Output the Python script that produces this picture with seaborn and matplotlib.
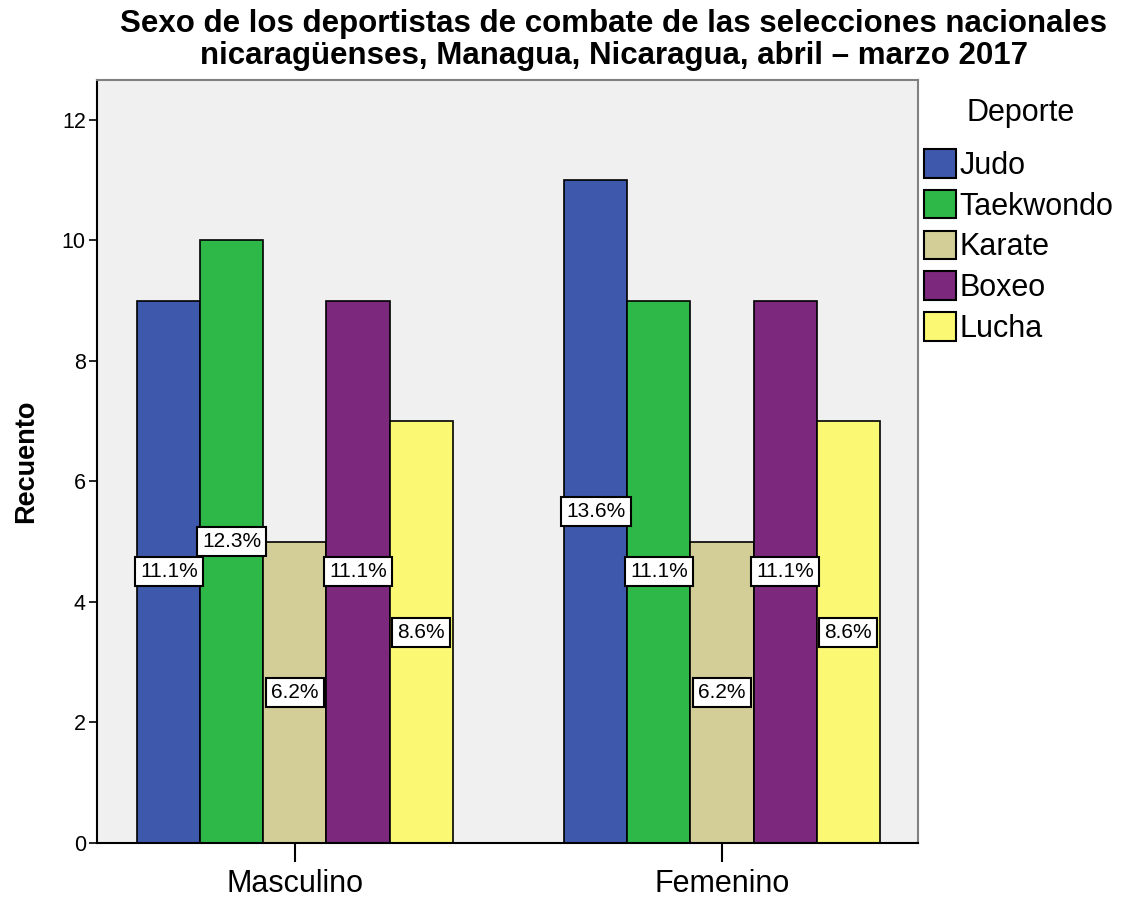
import pandas as pd
import matplotlib.pyplot as plt
import seaborn as sns
from matplotlib.patches import Patch

# datos
sexo = ['Masculino', 'Femenino']
deportes = ['Judo', 'Taekwondo', 'Karate', 'Boxeo', 'Lucha']
masculino = [9, 10, 5, 9, 7]
femenino = [11, 9, 5, 9, 7]
colores = ['#3E58AC', '#2EB848', '#D3CE97', '#7B287D', '#FBF873']

rows = []
for s, vals in zip(sexo, [masculino, femenino]):
    for d, v in zip(deportes, vals):
        rows.append({'Sexo': s, 'Deporte': d, 'Recuento': v})
df = pd.DataFrame(rows)
total = df['Recuento'].sum()

sns.set_style('white')
plt.rcParams['font.family'] = ['Liberation Sans', 'DejaVu Sans']
plt.rcParams['text.color'] = 'black'
plt.rcParams['axes.labelcolor'] = 'black'
plt.rcParams['xtick.color'] = 'black'
plt.rcParams['ytick.color'] = 'black'

fig = plt.figure(figsize=(11.26, 9.01), dpi=100)
ax = fig.add_axes([0.0861, 0.0644, 0.7292, 0.8468])
ax.set_facecolor('#F0F0F0')

sns.barplot(data=df, x='Sexo', y='Recuento', hue='Deporte', order=sexo,
            hue_order=deportes, palette=colores, width=0.738, gap=0,
            edgecolor='black', linewidth=1.2, saturation=1, legend=False, ax=ax)

# etiquetas de porcentaje en medio de cada barra
for cont in ax.containers:
    for bar in cont:
        h = bar.get_height()
        ax.text(bar.get_x() + bar.get_width() / 2, h / 2,
                f'{h / total * 100:.1f}%', ha='center', va='center', fontsize=15,
                bbox=dict(boxstyle='square,pad=0.24', fc='white', ec='black', lw=1.5))

ax.set_ylim(0, 12.66)
ax.set_xlim(-0.4637, 1.459)
ax.set_yticks([0, 2, 4, 6, 8, 10, 12])
ax.set_xlabel('')
ax.set_ylabel('Recuento', fontsize=19.5, fontweight='bold', labelpad=16)
ax.tick_params(axis='y', labelsize=15.5, left=True, length=6, width=1.2, pad=2)
ax.tick_params(axis='x', labelsize=22, bottom=True, length=14, width=1.5, pad=5)

for side in ['left', 'bottom']:
    ax.spines[side].set_color('black')
    ax.spines[side].set_linewidth(1.5)
for side in ['top', 'right']:
    ax.spines[side].set_color('#808080')
    ax.spines[side].set_linewidth(1.5)

fig.suptitle('Sexo de los deportistas de combate de las selecciones nacionales\n'
             'nicaragüenses, Managua, Nicaragua, abril \u2013 marzo 2017',
             fontsize=22.5, fontweight='bold', x=0.545, y=0.990, linespacing=1.08)

# leyenda
fig.text(1021 / 1126, 1 - 113 / 901, 'Deporte', ha='center', va='center', fontsize=22)
handles = [Patch(facecolor=c, edgecolor='black', linewidth=1.5) for c in colores]
leg = fig.legend(handles, deportes, loc='upper left',
                 bbox_to_anchor=(0.810, 0.848), frameon=False, fontsize=22,
                 handlelength=1.05, handleheight=1.05,
                 handletextpad=0.1, labelspacing=0.3, borderaxespad=0)

fig.savefig('out.png', dpi=100)
